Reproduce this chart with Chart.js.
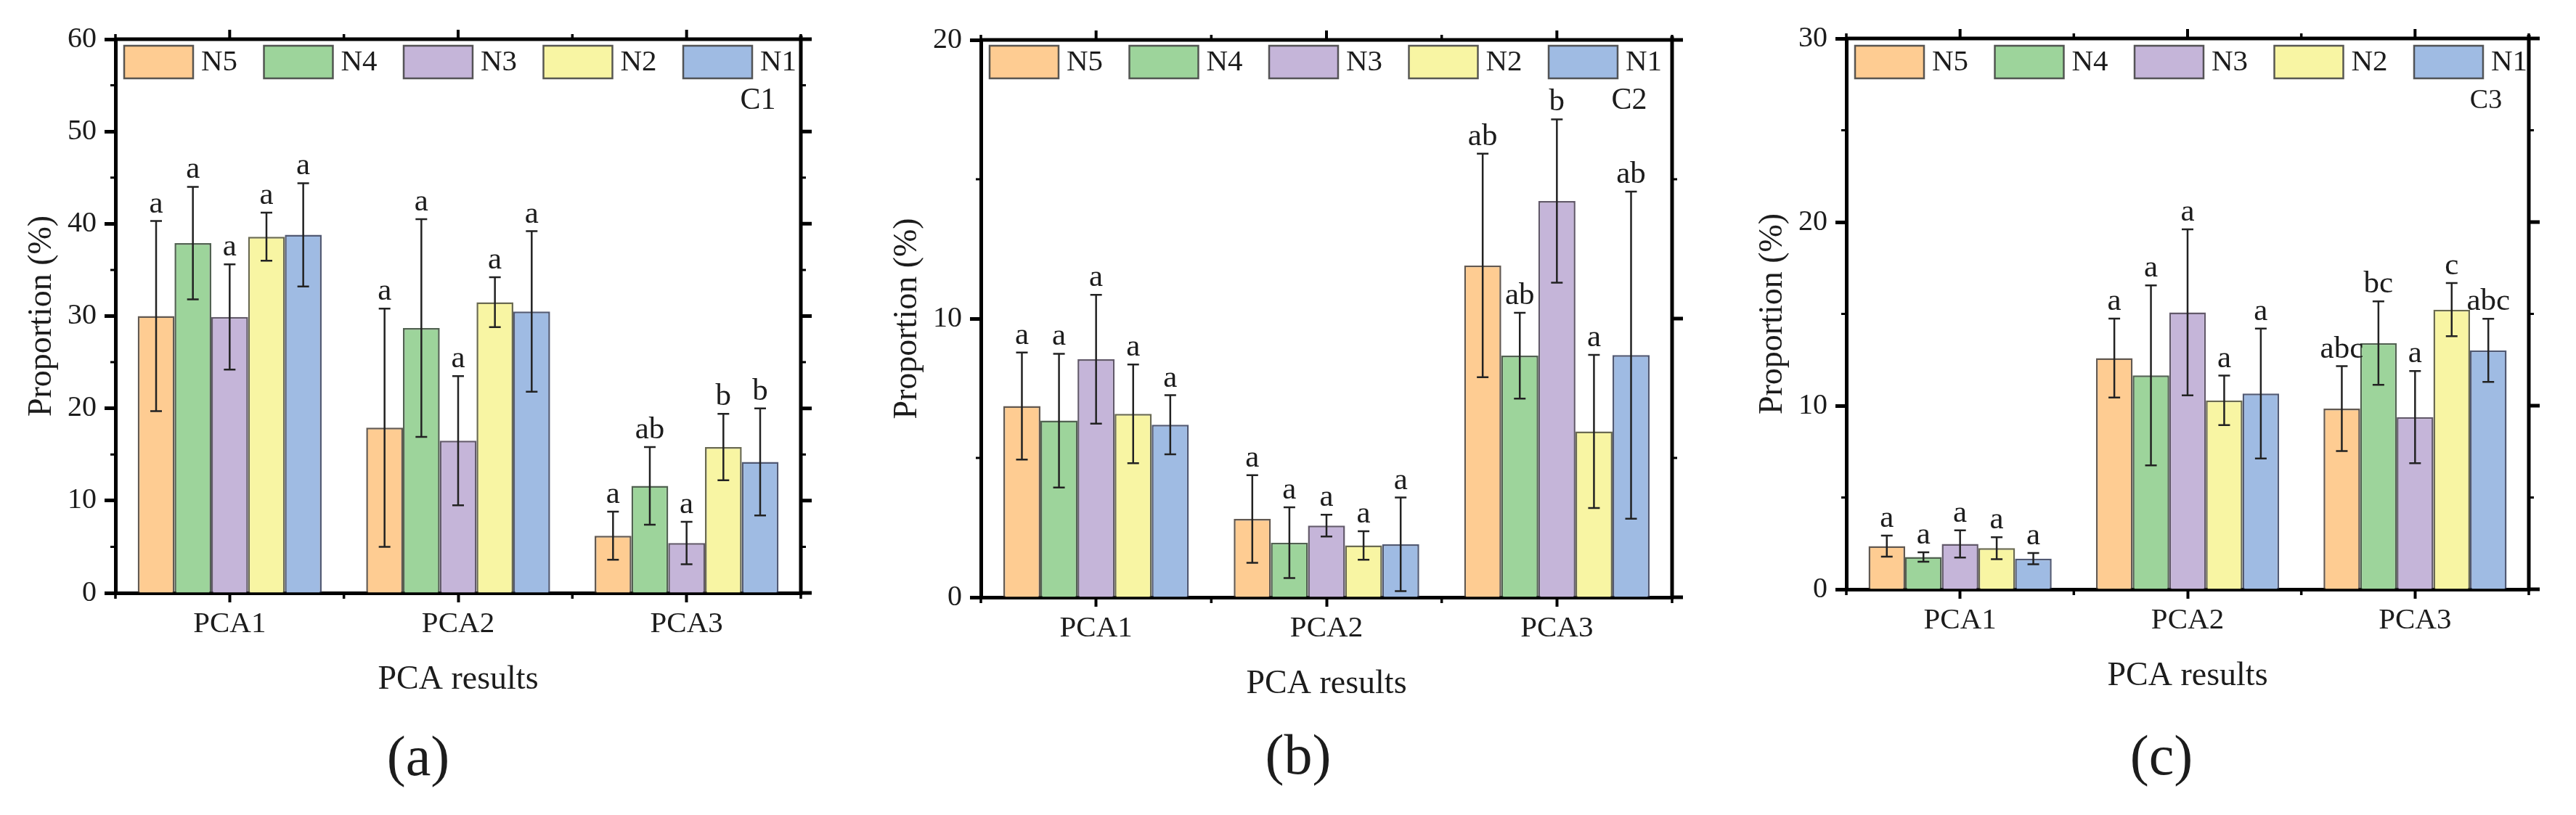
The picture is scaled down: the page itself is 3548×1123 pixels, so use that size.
<!DOCTYPE html>
<html>
<head>
<meta charset="utf-8">
<script src="https://cdn.jsdelivr.net/npm/chart.js@4.4.0/dist/chart.umd.min.js"></script>
<style>
  html, body { margin: 0; padding: 0; background: #ffffff; }
  body { width: 3548px; height: 1123px; position: relative; overflow: hidden; }
  .panel { position: absolute; top: 0; height: 1123px; }
</style>
</head>
<body>
<div class="panel" style="left:0px;width:1183px"><canvas id="chartA"></canvas></div>
<div class="panel" style="left:1183px;width:1183px"><canvas id="chartB"></canvas></div>
<div class="panel" style="left:2366px;width:1182px"><canvas id="chartC"></canvas></div>
<script>
// ---------------- DATA ----------------
const categories = ['PCA1', 'PCA2', 'PCA3'];
const seriesNames = ['N5', 'N4', 'N3', 'N2', 'N1'];
const panelTags = ['C1', 'C2', 'C3'];
const panelCaptions = ['(a)', '(b)', '(c)'];
const yMaxes = [60, 20, 30];
const yMajorStep = 10;
const yMinorStep = 5;
const xAxisTitle = 'PCA results';
const yAxisTitle = 'Proportion (%)';

// rows: N5, N4, N3, N2, N1 ; columns: PCA1, PCA2, PCA3
// Panel (a) C1
const c1Means = [
  [30.0, 17.9, 6.2],
  [37.9, 28.7, 11.6],
  [29.9, 16.5, 5.4],
  [38.6, 31.5, 15.8],
  [38.8, 30.5, 14.2]
];
const c1Errors = [
  [10.3, 12.9, 2.6],
  [6.1, 11.8, 4.2],
  [5.7, 7.0, 2.3],
  [2.6, 2.7, 3.6],
  [5.6, 8.7, 5.8]
];
const c1Letters = [
  ['a', 'a', 'a'],
  ['a', 'a', 'ab'],
  ['a', 'a', 'a'],
  ['a', 'a', 'b'],
  ['a', 'a', 'b']
];

// Panel (b) C2
const c2Means = [
  [6.86, 2.81, 11.91],
  [6.34, 1.96, 8.67],
  [8.54, 2.57, 14.22],
  [6.58, 1.86, 5.95],
  [6.19, 1.90, 8.69]
];
const c2Errors = [
  [1.92, 1.57, 4.01],
  [2.40, 1.27, 1.54],
  [2.31, 0.39, 2.93],
  [1.77, 0.51, 2.75],
  [1.06, 1.68, 5.87]
];
const c2Letters = [
  ['a', 'a', 'ab'],
  ['a', 'a', 'ab'],
  ['a', 'a', 'b'],
  ['a', 'a', 'a'],
  ['a', 'a', 'ab']
];

// Panel (c) C3
const c3Means = [
  [2.35, 12.59, 9.84],
  [1.76, 11.65, 13.41],
  [2.47, 15.08, 9.38],
  [2.24, 10.29, 15.23],
  [1.67, 10.66, 13.01]
];
const c3Errors = [
  [0.57, 2.15, 2.31],
  [0.26, 4.90, 2.27],
  [0.74, 4.52, 2.51],
  [0.60, 1.35, 1.45],
  [0.31, 3.54, 1.72]
];
const c3Letters = [
  ['a', 'a', 'abc'],
  ['a', 'a', 'bc'],
  ['a', 'a', 'a'],
  ['a', 'a', 'c'],
  ['a', 'a', 'abc']
];

// ---------------- STYLE / LAYOUT ----------------
const fills = ['#FECC92', '#9DD49B', '#C5B5D9', '#F8F5A3', '#9FBBE3'];
const edges = ['rgba(70,60,50,0.85)', 'rgba(50,70,50,0.85)', 'rgba(70,60,80,0.85)', 'rgba(80,80,50,0.85)', 'rgba(50,60,90,0.85)'];
const FONT = "'Liberation Serif', 'Times New Roman', Times, serif";
const TXT = '#1c1c1c';
const H = 1123;
const X_AXIS_H = 300;
const TITLE_SIZE = 46;
const TITLE_LH = TITLE_SIZE * 1.2;

const layouts = [
  { off: 0,    w: 1183, left: 159,  right: 1103, top: 54, bottom: 817, capX: 576,  capY: 1048, tagSize: 42 },
  { off: 1183, w: 1183, left: 1351, right: 2303, top: 55, bottom: 823, capX: 1788, capY: 1046, tagSize: 42 },
  { off: 2366, w: 1182, left: 2543, right: 3483, top: 53, bottom: 812, capX: 2977, capY: 1047, tagSize: 38 }
];

function makePanel(idx, canvasId, means, errors, letters) {
  const L = layouts[idx];
  const yAxisW = L.left - L.off;

  const errorPlugin = {
    id: 'errorBars' + idx,
    afterDatasetsDraw(chart) {
      const ctx = chart.ctx;
      const ys = chart.scales.y;
      ctx.save();
      ctx.strokeStyle = '#222';
      ctx.lineWidth = 2.5;
      ctx.fillStyle = TXT;
      ctx.font = '43px ' + FONT;
      ctx.textAlign = 'center';
      ctx.textBaseline = 'alphabetic';
      chart.data.datasets.forEach((ds, i) => {
        const meta = chart.getDatasetMeta(i);
        meta.data.forEach((bar, j) => {
          const m = means[i][j], e = errors[i][j];
          const x = bar.x;
          const yT = ys.getPixelForValue(m + e);
          const yB = ys.getPixelForValue(m - e);
          ctx.beginPath();
          ctx.moveTo(x, yT); ctx.lineTo(x, yB);
          ctx.moveTo(x - 8, yT); ctx.lineTo(x + 8, yT);
          ctx.moveTo(x - 8, yB); ctx.lineTo(x + 8, yB);
          ctx.stroke();
          ctx.fillText(letters[i][j], x, yT - 12);
        });
      });
      ctx.restore();
    }
  };

  const framePlugin = {
    id: 'frame' + idx,
    afterDraw(chart) {
      const ctx = chart.ctx;
      const ca = chart.chartArea;
      const xs = chart.scales.x, ys = chart.scales.y;
      ctx.save();
      ctx.strokeStyle = '#000';
      ctx.lineCap = 'butt';
      // top & right frame
      ctx.lineWidth = 5;
      ctx.beginPath();
      ctx.moveTo(ca.left, ca.top); ctx.lineTo(ca.right + 2.5, ca.top);
      ctx.moveTo(ca.right, ca.top - 5); ctx.lineTo(ca.right, ca.bottom + 2.5);
      ctx.stroke();
      // category ticks
      const n = categories.length;
      const centers = categories.map((c, i) => xs.getPixelForValue(i));
      const half = (ca.right - ca.left) / n / 2;
      ctx.lineWidth = 4;
      ctx.beginPath();
      centers.forEach(cx => { ctx.moveTo(cx, ca.top); ctx.lineTo(cx, ca.top - 13); });
      ctx.stroke();
      ctx.lineWidth = 3.5;
      ctx.beginPath();
      for (let i = 0; i <= n; i++) {
        const bx = ca.left + i * 2 * half;
        ctx.moveTo(bx, ca.top); ctx.lineTo(bx, ca.top - 7);
        ctx.moveTo(bx, ca.bottom); ctx.lineTo(bx, ca.bottom + 8);
      }
      ctx.stroke();
      // right major/minor & left minor ticks
      const ymax = ys.max;
      ctx.lineWidth = 5;
      ctx.beginPath();
      for (let v = 0; v <= ymax + 1e-9; v += yMajorStep) {
        const y = ys.getPixelForValue(v);
        ctx.moveTo(ca.right, y); ctx.lineTo(ca.right + 15, y);
      }
      ctx.stroke();
      ctx.lineWidth = 3;
      ctx.beginPath();
      for (let v = yMinorStep; v < ymax; v += yMajorStep) {
        const y = ys.getPixelForValue(v);
        ctx.moveTo(ca.right, y); ctx.lineTo(ca.right + 7, y);
        ctx.moveTo(ca.left, y); ctx.lineTo(ca.left - 7, y);
      }
      ctx.stroke();
      ctx.restore();
    }
  };

  const legendPlugin = {
    id: 'insideLegend' + idx,
    afterDraw(chart) {
      const ctx = chart.ctx;
      const ca = chart.chartArea;
      ctx.save();
      ctx.font = '41px ' + FONT;
      ctx.textBaseline = 'middle';
      ctx.textAlign = 'left';
      chart.data.datasets.forEach((ds, i) => {
        const bx = ca.left + 12 + i * 192.5;
        const by = 63;
        ctx.fillStyle = ds.backgroundColor;
        ctx.fillRect(bx, by, 95, 45);
        ctx.strokeStyle = 'rgba(60,60,60,0.85)';
        ctx.lineWidth = 2.5;
        ctx.strokeRect(bx, by, 95, 45);
        ctx.fillStyle = TXT;
        ctx.fillText(ds.label, bx + 95 + 11, by + 23);
      });
      // panel tag
      ctx.textAlign = 'center';
      ctx.font = L.tagSize + 'px ' + FONT;
      ctx.fillText(panelTags[idx], ca.right - 59, 139);
      // caption
      ctx.font = '78px ' + FONT;
      ctx.fillText(panelCaptions[idx], L.capX - L.off, L.capY);
      ctx.restore();
    }
  };

  return new Chart(document.getElementById(canvasId), {
    type: 'bar',
    data: {
      labels: categories,
      datasets: seriesNames.map((name, i) => ({
        label: name,
        data: means[i],
        backgroundColor: fills[i],
        borderColor: edges[i],
        borderWidth: 2.5,
        categoryPercentage: 0.805,
        barPercentage: 1.0
      }))
    },
    options: {
      responsive: true,
      maintainAspectRatio: false,
      animation: false,
      devicePixelRatio: 1,
      layout: { padding: { left: 0, top: L.top, right: L.off + L.w - L.right, bottom: H - L.bottom - X_AXIS_H } },
      plugins: { legend: { display: false }, tooltip: { enabled: false }, title: { display: false } },
      scales: {
        x: {
          grid: { display: true, drawOnChartArea: false, drawTicks: true, tickLength: 13, tickWidth: 4, tickColor: '#000', offset: false },
          border: { display: true, color: '#000', width: 5 },
          ticks: { font: { family: FONT, size: 41 }, color: TXT, padding: 6 },
          title: { display: true, text: xAxisTitle, font: { family: FONT, size: TITLE_SIZE }, color: TXT,
                   padding: { top: 0, bottom: X_AXIS_H - 120 - TITLE_LH / 2 } },
          afterFit: (s) => { s.height = X_AXIS_H; }
        },
        y: {
          min: 0,
          max: yMaxes[idx],
          ticks: { stepSize: yMajorStep, font: { family: FONT, size: 40 }, color: TXT, padding: 11 },
          grid: { display: true, drawOnChartArea: false, drawTicks: true, tickLength: 15, tickWidth: 5, tickColor: '#000' },
          border: { display: true, color: '#000', width: 5 },
          title: { display: true, text: yAxisTitle, font: { family: FONT, size: TITLE_SIZE }, color: TXT,
                   padding: { top: yAxisW - 101 - TITLE_LH / 2, bottom: 0 } },
          afterFit: (s) => { s.width = yAxisW; }
        }
      }
    },
    plugins: [errorPlugin, framePlugin, legendPlugin]
  });
}

makePanel(0, 'chartA', c1Means, c1Errors, c1Letters);
makePanel(1, 'chartB', c2Means, c2Errors, c2Letters);
makePanel(2, 'chartC', c3Means, c3Errors, c3Letters);
</script>
</body>
</html>
